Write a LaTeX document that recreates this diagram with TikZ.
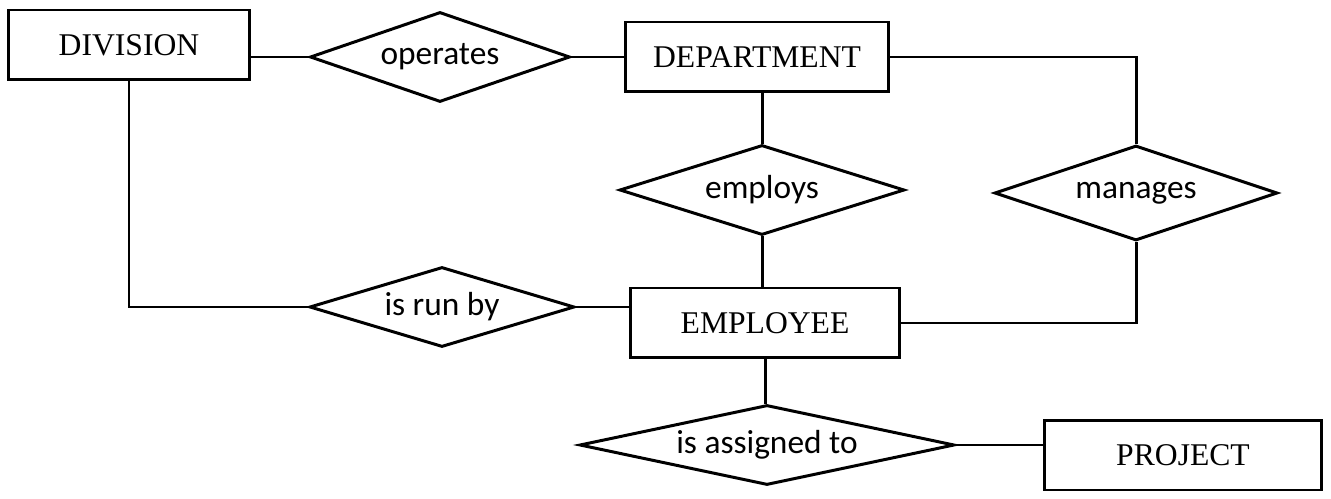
\documentclass[tikz,border=0pt]{standalone}
\usepackage{fontspec}
\newfontfamily\entfont{Liberation Serif}
\newfontfamily\relfont{Carlito}
\usetikzlibrary{shapes.geometric}
\tikzset{
	entity/.style={draw, rectangle, line width=1.7pt, inner sep=0pt,
			minimum width=#1, minimum height=1.4cm,
			font=\entfont\fontsize{18}{20}\selectfont},
	relation/.style={draw, diamond, line width=1.7pt, inner sep=0pt, aspect=3,
			font=\relfont\fontsize{19}{21}\selectfont},
	link/.style={line width=1.7pt}
}

\begin{document}
\begin{tikzpicture}[x=0.02cm, y=-0.02cm]
		\useasboundingbox (0,0) rectangle (1331,499);
		% entities
		\node[entity=4.84cm] (division) at (129,45) {DIVISION};
		\node[entity=5.26cm] (department) at (757,57) {DEPARTMENT};
		\node[entity=5.4cm] (employee) at (765,323) {EMPLOYEE};
		\node[entity=5.54cm] (project) at (1183,455) {PROJECT};
		% relationships
		\node[relation, minimum width=5.2cm, minimum height=1.8cm] (operates) at (440,57) {operates};
		\node[relation, minimum width=5.7cm, minimum height=1.8cm] (employs) at (762,190) {employs};
		\node[relation, minimum width=5.66cm, minimum height=1.9cm] (manages) at (1136,193) {manages};
		\node[relation, minimum width=5.3cm, minimum height=1.6cm] (runby) at (442,307) {is run by};
		\node[relation, minimum width=7.5cm, minimum height=1.6cm, aspect=4.5] (assigned) at (767,445) {is assigned to};
		% connectors
		\draw[link] (operates.west) -- (operates.west -| division.east);
		\draw[link] (operates.east) -- (operates.east -| department.west);
		\draw[link] (department.east) -| (manages.north);
		\draw[link] (employs.north) -- (employs.north |- department.south);
		\draw[link] (employs.south) -- (employs.south |- employee.north);
		\draw[link] (manages.south) |- (employee.east);
		\draw[link] (division.south) |- (runby.west);
		\draw[link] (runby.east) -- (runby.east -| employee.west);
		\draw[link] (employee.south) -- (employee.south |- assigned.north);
		\draw[link] (assigned.east) -- (assigned.east -| project.west);
	\end{tikzpicture}
\end{document}
